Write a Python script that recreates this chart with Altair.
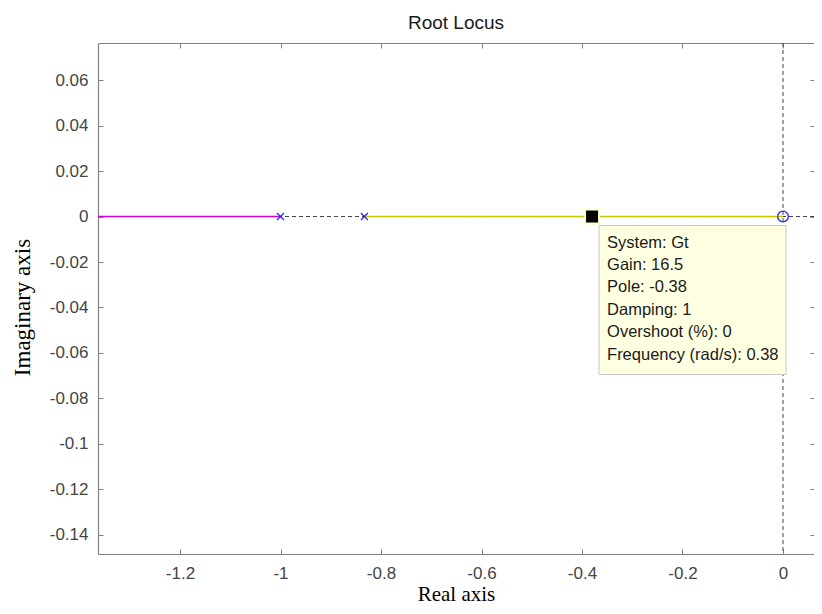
import altair as alt
import pandas as pd

# ---- data ----
x_ticks = [-1.2, -1.0, -0.8, -0.6, -0.4, -0.2, 0.0]
y_ticks = [0.06, 0.04, 0.02, 0.0, -0.02, -0.04, -0.06, -0.08, -0.1, -0.12, -0.14]
x_domain = [-1.3632, 0.0617]
y_domain = [-0.1484, 0.0763]

branch1_re = [-1.6, -1.0]      # magenta branch: pole -1 -> -inf
branch1_im = [0.0, 0.0]
branch2_re = [-0.833, 0.0]     # yellow branch: pole -0.833 -> zero 0
branch2_im = [0.0, 0.0]
poles_re = [-1.0, -0.833]
poles_im = [0.0, 0.0]
zeros_re = [0.0]
zeros_im = [0.0]
sel_re = [-0.38]
sel_im = [0.0]
tip_lines = ["System: Gt", "Gain: 16.5", "Pole: -0.38", "Damping: 1",
             "Overshoot (%): 0", "Frequency (rad/s): 0.38"]

AX = "#808080"
LBL = "#454545"
SANS = "Liberation Sans"
SERIF = "Liberation Serif"
BLUE = "#2424ff"
MINUS = "replace(datum.label, '\u2212', '-')"

xs = alt.Scale(domain=x_domain, nice=False, zero=False)
ys = alt.Scale(domain=y_domain, nice=False, zero=False)

b1 = pd.DataFrame({"re": branch1_re, "im": branch1_im})
b2 = pd.DataFrame({"re": branch2_re, "im": branch2_im})
poles = pd.DataFrame({"re": poles_re, "im": poles_im})
zeros = pd.DataFrame({"re": zeros_re, "im": zeros_im})
sel = pd.DataFrame({"re": sel_re, "im": sel_im})
xt = pd.DataFrame({"re": x_ticks, "im": [0.0] * len(x_ticks)})
yt = pd.DataFrame({"re": [0.0] * len(y_ticks), "im": y_ticks})

NOX = alt.X("re:Q", scale=xs, axis=None)
NOY = alt.Y("im:Q", scale=ys, axis=None)

# dashed axis lines through origin
vrule = alt.Chart(zeros).mark_rule(color="#444444", strokeDash=[4, 3], strokeWidth=1).encode(x=NOX)
hrule = alt.Chart(zeros).mark_rule(color="#444444", strokeDash=[4, 3], strokeWidth=1).encode(y=NOY)

# main layer carrying the labelled axes
main = alt.Chart(b1).mark_line(color="#d000d0", strokeWidth=1.6, clip=True).encode(
    x=alt.X("re:Q", scale=xs, axis=alt.Axis(
        orient="bottom", values=x_ticks, format="~g", labelExpr=MINUS,
        ticks=False, grid=False, domain=True, domainColor=AX, domainWidth=1.2,
        labelFont=SANS, labelFontSize=17, labelColor=LBL, labelPadding=11,
        title="Real axis", titleFont=SERIF, titleFontSize=21, titleFontWeight="normal",
        titleColor="black", titleY=46, titleBaseline="alphabetic")),
    y=alt.Y("im:Q", scale=ys, axis=alt.Axis(
        orient="left", values=y_ticks, format="~g", labelExpr=MINUS,
        ticks=False, grid=False, domain=True, domainColor=AX, domainWidth=1.2,
        labelFont=SANS, labelFontSize=17, labelColor=LBL, labelPadding=10,
        title="Imaginary axis", titleFont=SERIF, titleFontSize=23, titleFontWeight="normal",
        titleColor="black", titleX=-76, titleY=264, titleAngle=-90,
        titleBaseline="middle", titleAlign="center")),
)

branch2 = alt.Chart(b2).mark_line(color="#c8c800", strokeWidth=1.6).encode(x=NOX, y=NOY)

# inward tick layers
tick_common = dict(labels=False, domain=False, grid=False, ticks=True, tickSize=5,
                   tickColor=AX, tickWidth=1, title=None)
ticks_bl = alt.Chart(xt).mark_point(opacity=0).encode(
    x=alt.X("re:Q", scale=xs, axis=alt.Axis(orient="bottom", offset=-5, values=x_ticks, **tick_common)),
)
ticks_top = alt.Chart(xt).mark_point(opacity=0).encode(
    x=alt.X("re:Q", scale=xs, axis=alt.Axis(orient="top", offset=-5, values=x_ticks, **tick_common)),
)
top_border = alt.Chart(xt).mark_point(opacity=0).encode(
    x=alt.X("re:Q", scale=xs, axis=alt.Axis(orient="top", labels=False, ticks=False, grid=False,
                                            domain=True, domainColor=AX, domainWidth=1.2, title=None)),
)
ticks_left = alt.Chart(yt).mark_point(opacity=0).encode(
    y=alt.Y("im:Q", scale=ys, axis=alt.Axis(orient="left", offset=-5, values=y_ticks, **tick_common)),
)
ticks_right = alt.Chart(yt).mark_point(opacity=0).encode(
    y=alt.Y("im:Q", scale=ys, axis=alt.Axis(orient="right", offset=-4, values=y_ticks, **tick_common)),
)

pole_marks = alt.Chart(poles).mark_point(
    shape="M -1 -1 L 1 1 M -1 1 L 1 -1", size=49, filled=False, color=BLUE, strokeWidth=1.2, opacity=1
).encode(x=NOX, y=NOY)
zero_marks = alt.Chart(zeros).mark_point(
    shape="circle", size=115, filled=False, color=BLUE, strokeWidth=1.3, opacity=1
).encode(x=NOX, y=NOY)

halo = alt.Chart(sel).mark_point(shape="square", size=256, filled=True, color="#ffffcc", opacity=1).encode(x=NOX, y=NOY)
square = alt.Chart(sel).mark_point(shape="square", size=144, filled=True, color="black", opacity=1).encode(x=NOX, y=NOY)

tip_box = alt.Chart(sel).mark_rect(
    fill="#ffffe1", stroke="#c8c8c8", strokeWidth=1,
    xOffset=7, x2Offset=194, yOffset=9, y2Offset=158
).encode(x=NOX, x2="re", y=NOY, y2="im")

tip_text = alt.Chart(sel).mark_text(
    align="left", baseline="middle", dx=15, dy=26, font=SANS, fontSize=16.5,
    lineHeight=22.4, color="#1a1a1a"
).encode(x=NOX, y=NOY, text=alt.value(tip_lines))

chart = alt.layer(
    vrule, hrule, main, branch2, ticks_bl, ticks_top, top_border, ticks_left, ticks_right,
    pole_marks, zero_marks, halo, square, tip_box, tip_text
).resolve_axis(x="independent", y="independent").properties(
    width=716, height=511,
    autosize=alt.AutoSizeParams(type="none"),
    padding={"left": 90, "top": 35, "right": 0, "bottom": 50},
    background="white",
    title=alt.Title("Root Locus", font=SANS, fontSize=19, fontWeight="normal",
                    color="#1a1a1a", anchor="middle", baseline="bottom", offset=12, dy=21),
).configure_view(stroke=None)

chart.save("out.html", embed_options={"renderer": "svg", "actions": False})
